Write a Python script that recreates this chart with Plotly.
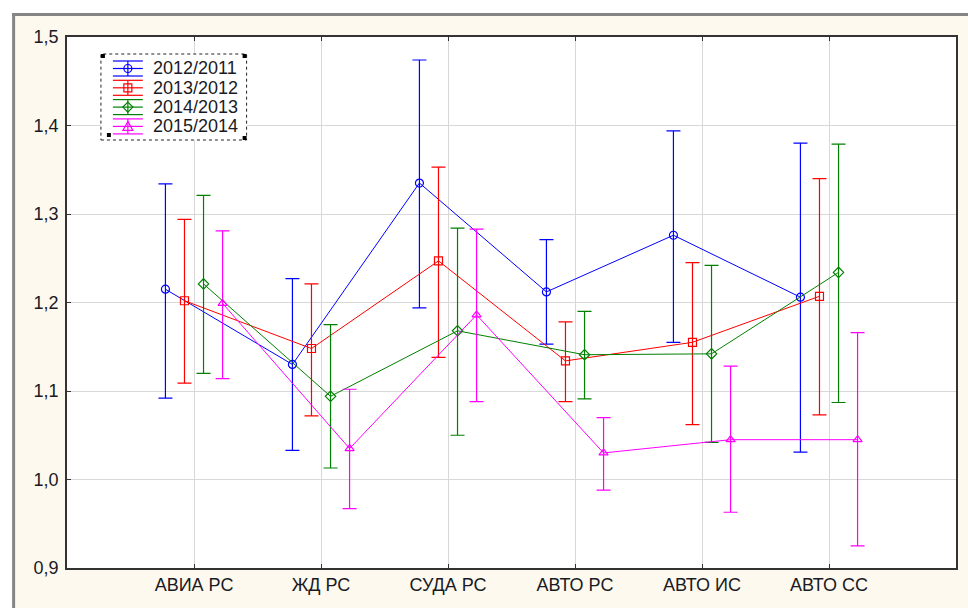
import plotly.graph_objects as go

# Categories along the x axis
categories = ["АВИА РС", "ЖД РС", "СУДА РС", "АВТО РС", "АВТО ИС", "АВТО СС"]

# Series: mean index value with upper / lower bounds of the interval
series_names = ["2012/2011", "2013/2012", "2014/2013", "2015/2014"]

mean_2012 = [1.215, 1.130, 1.335, 1.212, 1.276, 1.206]
upper_2012 = [1.334, 1.227, 1.474, 1.271, 1.394, 1.380]
lower_2012 = [1.092, 1.033, 1.194, 1.153, 1.155, 1.031]

mean_2013 = [1.202, 1.148, 1.247, 1.134, 1.155, 1.207]
upper_2013 = [1.294, 1.221, 1.353, 1.178, 1.245, 1.340]
lower_2013 = [1.109, 1.072, 1.138, 1.088, 1.062, 1.073]

mean_2014 = [1.221, 1.094, 1.168, 1.141, 1.142, 1.234]
upper_2014 = [1.321, 1.175, 1.284, 1.190, 1.242, 1.379]
lower_2014 = [1.120, 1.013, 1.050, 1.091, 1.042, 1.087]

mean_2015 = [1.199, 1.035, 1.186, 1.030, 1.045, 1.045]
upper_2015 = [1.281, 1.102, 1.283, 1.070, 1.128, 1.166]
lower_2015 = [1.114, 0.967, 1.088, 0.988, 0.963, 0.925]

y_ticks = [0.9, 1.0, 1.1, 1.2, 1.3, 1.4, 1.5]
y_tick_text = ["0,9", "1,0", "1,1", "1,2", "1,3", "1,4", "1,5"]

# Styling
colors = ["#0000FF", "#FF0000", "#008000", "#FF00FF"]
symbols = ["circle-open", "square-open", "diamond-open", "triangle-up-open"]
offsets = [-0.225, -0.075, 0.075, 0.225]
FONT = "Liberation Sans, Arial, sans-serif"
TEXT = "#1A1A24"
CREAM = "#FDF9EE"

W, H = 968, 608
ML, MR, MT, MB = 67, 10, 37, 40
PW, PH = W - ML - MR, H - MT - MB


def px_x(px):
    return (px - ML) / PW


def px_y(py):
    return 1 - (py - MT) / PH


means = [mean_2012, mean_2013, mean_2014, mean_2015]
uppers = [upper_2012, upper_2013, upper_2014, upper_2015]
lowers = [lower_2012, lower_2013, lower_2014, lower_2015]

fig = go.Figure()
for name, m, up, lo, c, s, off in zip(series_names, means, uppers, lowers,
                                      colors, symbols, offsets):
    xs = [i + 1 + off for i in range(len(categories))]
    fig.add_trace(go.Scatter(
        x=xs, y=m, name=name, mode="lines+markers", showlegend=False,
        line=dict(color=c, width=1),
        marker=dict(symbol=s, size=8, color=c, line=dict(color=c, width=1.2)),
        error_y=dict(type="data", symmetric=False,
                     array=[u - v for u, v in zip(up, m)],
                     arrayminus=[v - l for l, v in zip(lo, m)],
                     color=c, thickness=1.2, width=7),
    ))

shapes = [
    # white strips outside the framed panel
    dict(type="rect", xref="paper", yref="paper", x0=px_x(-5), x1=px_x(12),
         y0=px_y(H + 5), y1=px_y(-5), fillcolor="white", line_width=0, layer="below"),
    dict(type="rect", xref="paper", yref="paper", x0=px_x(-5), x1=px_x(W + 5),
         y0=px_y(13), y1=px_y(-5), fillcolor="white", line_width=0, layer="below"),
    # panel frame
    dict(type="line", xref="paper", yref="paper", x0=px_x(13.5), x1=px_x(13.5),
         y0=px_y(13), y1=px_y(H + 5), line=dict(color="#858585", width=3)),
    dict(type="line", xref="paper", yref="paper", x0=px_x(12), x1=px_x(W + 5),
         y0=px_y(14.5), y1=px_y(14.5), line=dict(color="#858585", width=3)),
    # legend box with dotted border
    dict(type="rect", xref="paper", yref="paper", x0=px_x(101), x1=px_x(247),
         y0=px_y(140), y1=px_y(54), fillcolor="white",
         line=dict(color="#222222", width=1, dash="dot"), layer="above"),
]
# small black handles on the legend box
for cx, cy in [(103, 56), (245, 56), (109, 135), (245, 138)]:
    shapes.append(dict(type="rect", xref="paper", yref="paper",
                       x0=px_x(cx - 2), x1=px_x(cx + 2),
                       y0=px_y(cy + 2), y1=px_y(cy - 2),
                       fillcolor="black", line_width=0, layer="above"))

# legend entries: line with interval whiskers, marker and label
annotations = []
for i, (name, c, s) in enumerate(zip(series_names, colors, symbols)):
    cy = 68.5 + 19.3 * i
    xl, xr, xc = 113, 143, 128

    def seg(x0, y0, x1, y1):
        return dict(type="line", xref="paper", yref="paper",
                    x0=px_x(x0), y0=px_y(y0), x1=px_x(x1), y1=px_y(y1),
                    line=dict(color=c, width=1.2), layer="above")

    shapes += [seg(xl, cy, xr, cy), seg(xl, cy - 7.5, xr, cy - 7.5),
               seg(xl, cy + 7.5, xr, cy + 7.5), seg(xc, cy - 7.5, xc, cy + 7.5)]
    r = 4
    mk = dict(xref="paper", yref="paper", line=dict(color=c, width=1.2),
              fillcolor="rgba(0,0,0,0)", layer="above")
    if s.startswith("circle"):
        shapes.append(dict(type="circle", x0=px_x(xc - r), x1=px_x(xc + r),
                           y0=px_y(cy + r), y1=px_y(cy - r), **mk))
    elif s.startswith("square"):
        shapes.append(dict(type="rect", x0=px_x(xc - r), x1=px_x(xc + r),
                           y0=px_y(cy + r), y1=px_y(cy - r), **mk))
    elif s.startswith("diamond"):
        pts = [(xc, cy - r - 1), (xc + r + 1, cy), (xc, cy + r + 1), (xc - r - 1, cy)]
        path = "M " + " L ".join(f"{px_x(a)},{px_y(b)}" for a, b in pts) + " Z"
        shapes.append(dict(type="path", path=path, **mk))
    else:
        pts = [(xc, cy - r - 1), (xc + r + 1, cy + r), (xc - r - 1, cy + r)]
        path = "M " + " L ".join(f"{px_x(a)},{px_y(b)}" for a, b in pts) + " Z"
        shapes.append(dict(type="path", path=path, **mk))
    annotations.append(dict(text=name, xref="paper", yref="paper",
                            x=px_x(151), y=px_y(cy), xanchor="left",
                            yanchor="middle", showarrow=False,
                            font=dict(family=FONT, size=18, color=TEXT)))

fig.update_layout(
    width=W, height=H,
    margin=dict(l=ML, r=MR, t=MT, b=MB, pad=0),
    paper_bgcolor=CREAM, plot_bgcolor="white",
    font=dict(family=FONT, size=18, color=TEXT),
    showlegend=False,
    xaxis=dict(range=[0, 7], tickmode="array",
               tickvals=list(range(1, len(categories) + 1)), ticktext=categories,
               showgrid=True, gridcolor="#D8D8D8", gridwidth=1,
               showline=True, linecolor="#333333", linewidth=1.5, mirror="ticks",
               ticks="inside", ticklen=4, tickcolor="#333333",
               zeroline=False, tickfont=dict(size=18)),
    yaxis=dict(range=[0.9, 1.5], tickmode="array", tickvals=y_ticks,
               ticktext=y_tick_text,
               showgrid=True, gridcolor="#D8D8D8", gridwidth=1,
               showline=True, linecolor="#333333", linewidth=1.5, mirror=True,
               ticks="inside", ticklen=4, tickcolor="#333333",
               zeroline=False, tickfont=dict(size=18), ticklabelstandoff=3),
    yaxis2=dict(range=[0, 8], overlaying="y", side="right", anchor="x",
                tickmode="linear", tick0=0, dtick=1, showticklabels=False,
                ticks="inside", ticklen=4, tickcolor="#333333",
                showgrid=False, zeroline=False, showline=True,
                linecolor="#333333", linewidth=1.5),
    shapes=shapes,
    annotations=annotations,
)

fig.write_html("out.html")
